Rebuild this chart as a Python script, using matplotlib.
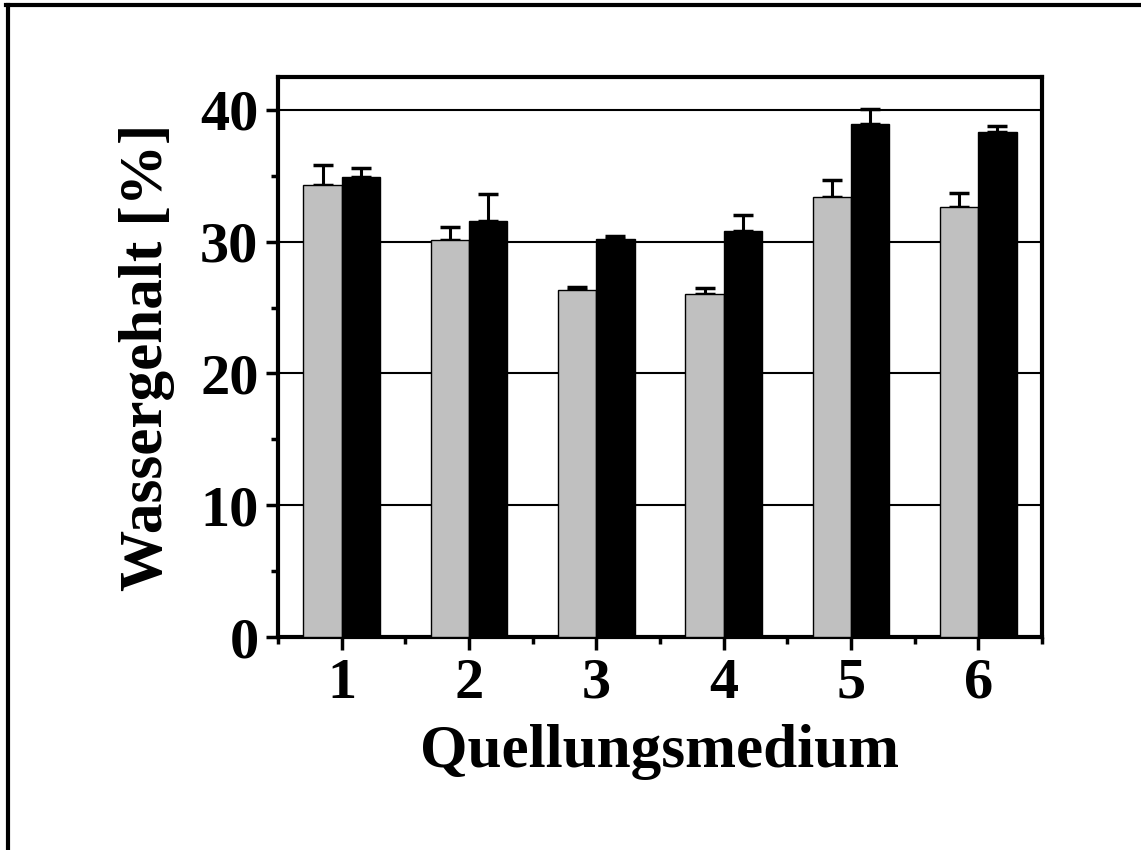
import matplotlib
matplotlib.use("Agg")
import matplotlib.pyplot as plt
from matplotlib.lines import Line2D
from matplotlib.ticker import MultipleLocator, FixedLocator
import numpy as np

categories = ["1", "2", "3", "4", "5", "6"]
gray_values = [34.3, 30.1, 26.3, 26.0, 33.4, 32.6]
gray_errors = [1.5, 1.0, 0.25, 0.45, 1.25, 1.1]
black_values = [34.9, 31.6, 30.2, 30.8, 38.9, 38.3]
black_errors = [0.7, 2.05, 0.25, 1.2, 1.2, 0.45]

plt.rcParams['font.family'] = ['Liberation Serif', 'DejaVu Serif']
plt.rcParams['font.weight'] = 'bold'

fig = plt.figure(figsize=(11.41, 8.5), dpi=100)
ax = fig.add_axes([278/1141, 1-637/850, (1042-278)/1141, (637-77)/850])

x = np.arange(1, len(categories) + 1)
w = 0.3
ax.bar(x - w/2, gray_values, width=w, color='#c0c0c0', edgecolor='black', linewidth=1.0, zorder=3)
ax.bar(x + w/2, black_values, width=w, color='black', edgecolor='black', linewidth=1.0, zorder=3)
ax.errorbar(x - w/2, gray_values, yerr=[np.zeros(len(x)), gray_errors], fmt='none',
            ecolor='black', elinewidth=2.2, capsize=7, capthick=2.5, zorder=2)
ax.errorbar(x + w/2, black_values, yerr=[np.zeros(len(x)), black_errors], fmt='none',
            ecolor='black', elinewidth=2.2, capsize=7, capthick=2.5, zorder=2)

ax.set_xlim(0.5, 6.5)
ax.set_ylim(0, 42.5)
ax.set_xticks(x)
ax.set_xticklabels(categories)
ax.xaxis.set_minor_locator(FixedLocator(np.arange(0.5, 7.0, 1.0)))
ax.yaxis.set_major_locator(MultipleLocator(10))
ax.yaxis.set_minor_locator(MultipleLocator(5))

ax.yaxis.grid(True, which='major', color='black', linewidth=1.5, zorder=0)
ax.set_axisbelow(True)

for s in ax.spines.values():
    s.set_linewidth(3)
ax.tick_params(axis='both', which='major', direction='out', length=9, width=2.5,
               labelsize=42, pad=5)
ax.tick_params(axis='x', which='major', pad=6)
ax.tick_params(axis='both', which='minor', direction='out', length=5, width=2.5)
for lab in ax.get_xticklabels() + ax.get_yticklabels():
    lab.set_fontweight('bold')

ax.set_xlabel('Quellungsmedium', fontsize=44, fontweight='bold', labelpad=10)
ax.set_ylabel('Wassergehalt [%]', fontsize=44, fontweight='bold', labelpad=18)

fig.add_artist(Line2D([6/1141, 1], [1-5/850, 1-5/850], color='black', linewidth=3, transform=fig.transFigure))
fig.add_artist(Line2D([7.5/1141, 7.5/1141], [0, 1-5/850], color='black', linewidth=3, transform=fig.transFigure))

fig.savefig('out.png', dpi=100, facecolor='white')
